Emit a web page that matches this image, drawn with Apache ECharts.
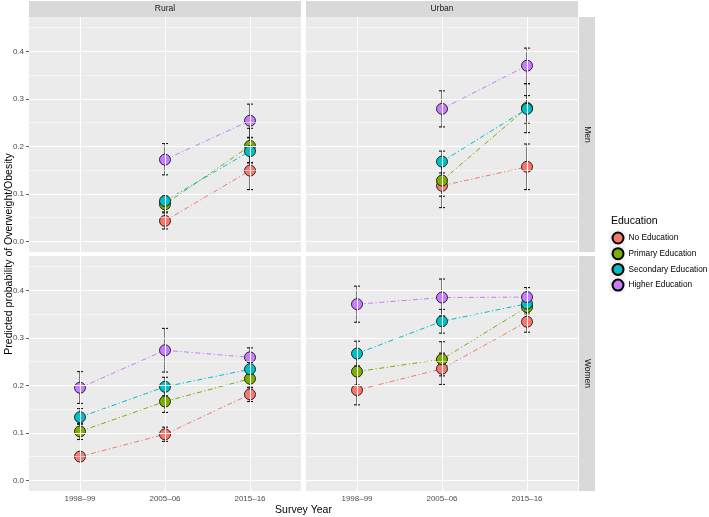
<!DOCTYPE html>
<html>
<head>
<meta charset="utf-8">
<script src="https://cdn.jsdelivr.net/npm/echarts@6/dist/echarts.min.js"></script>
<style>
html,body{margin:0;padding:0;background:#fff;}
#chart{width:709px;height:517px;}
</style>
</head>
<body>
<div id="chart"></div>
<script>
const years = ['1998–99', '2005–06', '2015–16'];
const education = ['No Education', 'Primary Education', 'Secondary Education', 'Higher Education'];
const areas = ['Rural', 'Urban'];
const sexes = ['Men', 'Women'];
const yTicks = [0, 0.1, 0.2, 0.3, 0.4];
const yMinorLines = [0.05, 0.15, 0.25, 0.35, 0.45];

// rows: education level; columns: survey year
const ruralMenEst  = [[null, 0.043, 0.149], [null, 0.078, 0.201], [null, 0.085, 0.190], [null, 0.172, 0.254]];
const ruralMenLow  = [[null, 0.026, 0.109], [null, 0.062, 0.165], [null, 0.071, 0.166], [null, 0.140, 0.219]];
const ruralMenHigh = [[null, 0.060, 0.189], [null, 0.094, 0.238], [null, 0.098, 0.218], [null, 0.206, 0.289]];

const urbanMenEst  = [[null, 0.117, 0.157], [null, 0.128, 0.281], [null, 0.168, 0.279], [null, 0.279, 0.370]];
const urbanMenLow  = [[null, 0.071, 0.109], [null, 0.095, 0.229], [null, 0.144, 0.249], [null, 0.241, 0.332]];
const urbanMenHigh = [[null, 0.163, 0.205], [null, 0.160, 0.332], [null, 0.190, 0.307], [null, 0.317, 0.407]];

const ruralWomenEst  = [[0.050, 0.097, 0.181], [0.103, 0.166, 0.214], [0.133, 0.197, 0.234], [0.195, 0.274, 0.259]];
const ruralWomenLow  = [[0.044, 0.082, 0.166], [0.086, 0.143, 0.195], [0.118, 0.178, 0.220], [0.162, 0.228, 0.240]];
const ruralWomenHigh = [[0.057, 0.112, 0.196], [0.120, 0.189, 0.233], [0.151, 0.217, 0.248], [0.229, 0.320, 0.279]];

const urbanWomenEst  = [[0.190, 0.235, 0.334], [0.229, 0.255, 0.365], [0.267, 0.335, 0.372], [0.371, 0.385, 0.386]];
const urbanWomenLow  = [[0.159, 0.202, 0.312], [0.200, 0.220, 0.350], [0.241, 0.310, 0.355], [0.333, 0.346, 0.366]];
const urbanWomenHigh = [[0.221, 0.268, 0.356], [0.258, 0.292, 0.380], [0.293, 0.360, 0.389], [0.409, 0.424, 0.406]];

const colors = ['#F8766D', '#7CAE00', '#00BFC4', '#C77CFF'];
const FONT = 'Liberation Sans, Arial, sans-serif';

const panels = [
  { est: ruralMenEst, low: ruralMenLow, high: ruralMenHigh, left: 29, top: 17, showX: false, showY: true },
  { est: urbanMenEst, low: urbanMenLow, high: urbanMenHigh, left: 306, top: 17, showX: false, showY: false },
  { est: ruralWomenEst, low: ruralWomenLow, high: ruralWomenHigh, left: 29, top: 256, showX: true, showY: true },
  { est: urbanWomenEst, low: urbanWomenLow, high: urbanWomenHigh, left: 306, top: 256, showX: true, showY: false }
];
const PW = 272, PH = 235;

const grids = [], xAxes = [], yAxes = [], series = [];

panels.forEach((p, gi) => {
  grids.push({ left: p.left, top: p.top, width: PW, height: PH, show: true, backgroundColor: '#ebebeb', borderWidth: 0 });
  xAxes.push({
    type: 'value', gridIndex: gi, min: 0.4, max: 3.6,
    axisLine: { show: false },
    splitLine: { show: false },
    axisTick: { show: p.showX, customValues: [1, 2, 3], length: 3, lineStyle: { color: '#333', width: 0.8 } },
    axisLabel: { show: p.showX, customValues: [1, 2, 3], formatter: v => years[Math.round(v) - 1],
      fontSize: 8, color: '#4d4d4d', margin: 4, fontFamily: FONT }
  });
  yAxes.push({
    type: 'value', gridIndex: gi, min: -0.0225, max: 0.4725,
    axisLine: { show: false },
    splitLine: { show: false },
    axisTick: { show: p.showY, customValues: yTicks, length: 3, lineStyle: { color: '#333', width: 0.8 } },
    axisLabel: { show: p.showY, customValues: yTicks, formatter: v => v.toFixed(1),
      fontSize: 8, color: '#4d4d4d', margin: 5, fontFamily: FONT }
  });

  // background gridlines
  const ml = [];
  yTicks.forEach(v => ml.push({ yAxis: v, lineStyle: { color: '#fff', width: 1.1, type: 'solid' } }));
  yMinorLines.forEach(v => ml.push({ yAxis: v, lineStyle: { color: '#fff', width: 0.55, type: 'solid' } }));
  [1, 2, 3].forEach(v => ml.push({ xAxis: v, lineStyle: { color: '#fff', width: 1.1, type: 'solid' } }));
  series.push({
    type: 'line', name: 'grid' + gi, xAxisIndex: gi, yAxisIndex: gi, z: 1,
    data: [], silent: true,
    markLine: { silent: true, symbol: ['none', 'none'], label: { show: false }, animation: false, data: ml }
  });

  education.forEach((ed, ei) => {
    const pts = [], bars = [];
    for (let k = 0; k < years.length; k++) {
      if (p.est[ei][k] == null) continue;
      pts.push([k + 1, p.est[ei][k]]);
      bars.push([k + 1, p.low[ei][k], p.high[ei][k]]);
    }
    series.push({
      type: 'custom', name: ed + ' err' + gi, xAxisIndex: gi, yAxisIndex: gi, z: 2, silent: true,
      data: bars,
      renderItem: (params, api) => {
        const x = api.value(0);
        const a = api.coord([x, api.value(1)]);
        const b = api.coord([x, api.value(2)]);
        const w = 3;
        const st = { stroke: '#111', lineWidth: 1.1 };
        return { type: 'group', children: [
          { type: 'line', shape: { x1: a[0], y1: a[1], x2: b[0], y2: b[1] }, style: st },
          { type: 'line', shape: { x1: a[0] - w, y1: a[1], x2: a[0] + w, y2: a[1] }, style: st },
          { type: 'line', shape: { x1: b[0] - w, y1: b[1], x2: b[0] + w, y2: b[1] }, style: st }
        ] };
      }
    });
    series.push({
      type: 'line', name: ed + ' line' + gi, xAxisIndex: gi, yAxisIndex: gi, z: 3, silent: true,
      data: pts, showSymbol: false, symbol: 'none',
      lineStyle: { color: colors[ei], width: 1, type: [5, 2.5, 1.2, 2.5] }
    });
  });
  education.forEach((ed, ei) => {
    const pts = [];
    for (let k = 0; k < years.length; k++) {
      if (p.est[ei][k] == null) continue;
      pts.push([k + 1, p.est[ei][k]]);
    }
    series.push({
      type: 'scatter', name: ed, xAxisIndex: gi, yAxisIndex: gi, z: 4,
      data: pts, symbol: 'circle', symbolSize: 11,
      itemStyle: { color: colors[ei], borderColor: '#000', borderWidth: 0.8, opacity: 1 }
    });
  });
});

const graphics = [];
// top strips
areas.forEach((a, i) => {
  const left = panels[i].left;
  graphics.push({ type: 'rect', shape: { x: left, y: 1, width: PW, height: 16 }, style: { fill: '#d9d9d9' }, z: 0 });
  graphics.push({ type: 'text', x: left + PW / 2, y: 9, style: { text: a, fontSize: 8.5, fill: '#1a1a1a', fontFamily: FONT, align: 'center', verticalAlign: 'middle' }, z: 1 });
});
// right strips
sexes.forEach((s, i) => {
  const top = panels[i * 2].top;
  graphics.push({ type: 'rect', shape: { x: 579, y: top, width: 16, height: PH }, style: { fill: '#d9d9d9' }, z: 0 });
  graphics.push({ type: 'text', x: 587, y: top + PH / 2, rotation: -Math.PI / 2, style: { text: s, fontSize: 8.5, fill: '#1a1a1a', fontFamily: FONT, align: 'center', verticalAlign: 'middle' }, z: 1 });
});
// axis titles
graphics.push({ type: 'text', x: 9, y: 254, rotation: Math.PI / 2, style: { text: 'Predicted probability of Overweight/Obesity', fontSize: 10.5, fill: '#000', fontFamily: FONT, align: 'center', verticalAlign: 'middle' } });
graphics.push({ type: 'text', x: 303.5, y: 510, style: { text: 'Survey Year', fontSize: 10.5, fill: '#000', fontFamily: FONT, align: 'center', verticalAlign: 'middle' } });
// legend title and key backgrounds
graphics.push({ type: 'text', x: 611, y: 221, style: { text: 'Education', fontSize: 10.5, fill: '#000', fontFamily: FONT, align: 'left', verticalAlign: 'middle' } });
education.forEach((e, i) => {
  graphics.push({ type: 'rect', shape: { x: 609, y: 230 + i * 15.7, width: 16, height: 15.7 }, style: { fill: '#f2f2f2', stroke: '#fff', lineWidth: 0.6 }, z: 0 });
});

const chart = echarts.init(document.getElementById('chart'));
chart.setOption({
  animation: false,
  backgroundColor: '#fff',
  grid: grids,
  xAxis: xAxes,
  yAxis: yAxes,
  legend: {
    data: education.map(n => ({ name: n, icon: 'circle' })),
    orient: 'vertical', left: 611.5, top: 231.5, padding: 0,
    itemWidth: 11, itemHeight: 11, itemGap: 2.7,
    textStyle: { fontSize: 8.3, color: '#000', fontFamily: FONT, lineHeight: 11 },
    selectedMode: false
  },
  graphic: graphics,
  series: series
});
</script>
</body>
</html>
